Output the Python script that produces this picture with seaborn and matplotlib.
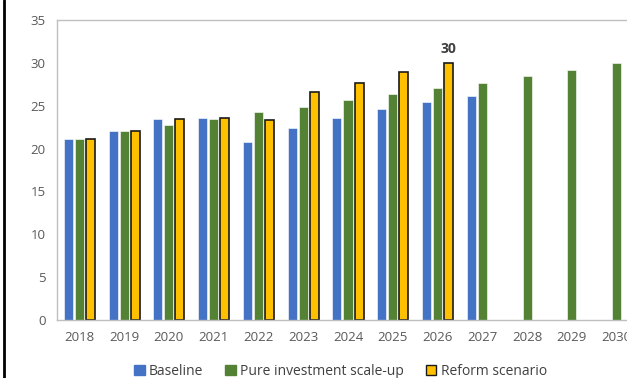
import numpy as np
import pandas as pd
import matplotlib
matplotlib.use("Agg")
import matplotlib.pyplot as plt
from matplotlib.lines import Line2D
from matplotlib.patches import Patch
import seaborn as sns

years = ["2018", "2019", "2020", "2021", "2022", "2023", "2024",
         "2025", "2026", "2027", "2028", "2029", "2030"]
baseline = [21.1, 22.0, 23.4, 23.6, 20.8, 22.4, 23.6, 24.6, 25.4, 26.1,
            np.nan, np.nan, np.nan]
pure_investment = [21.1, 22.0, 22.8, 23.45, 24.3, 24.9, 25.7, 26.4, 27.1,
                   27.7, 28.5, 29.2, 29.95]
reform = [21.1, 22.0, 23.4, 23.6, 23.3, 26.6, 27.7, 28.9, 30.0,
          np.nan, np.nan, np.nan, np.nan]
series_names = ["Baseline", "Pure investment scale-up", "Reform scenario"]
label_year = "2026"

df = pd.concat([
    pd.DataFrame({"year": years, "value": baseline, "series": series_names[0]}),
    pd.DataFrame({"year": years, "value": pure_investment, "series": series_names[1]}),
    pd.DataFrame({"year": years, "value": reform, "series": series_names[2]}),
], ignore_index=True)

colors = {"Baseline": "#4472C4",
          "Pure investment scale-up": "#548235",
          "Reform scenario": "#FFC000"}

sns.set_theme(style="white")
plt.rcParams["font.family"] = ["Open Sans", "DejaVu Sans"]

fig = plt.figure(figsize=(6.27, 3.78), dpi=100)
ax = fig.add_axes([57 / 627, 58 / 378, 582 / 627, 300 / 378])

sns.barplot(data=df, x="year", y="value", hue="series", order=years,
            hue_order=series_names, palette=colors, width=0.74, gap=0.18,
            saturation=1, ax=ax, legend=False)

# outline on the reform bars
for patch in ax.containers[2]:
    patch.set_edgecolor("#1a1a1a")
    patch.set_linewidth(1.2)
for c in ax.containers[:2]:
    for patch in c:
        patch.set_edgecolor("white")
        patch.set_linewidth(0.4)

# value label on the reform scenario peak
peak = reform[years.index(label_year)]
labels = ["" if abs(p.get_height() - peak) > 1e-9 else f"{peak:.0f}"
          for p in ax.containers[2]]
ax.bar_label(ax.containers[2], labels=labels, padding=5, fontsize=10,
             fontweight="bold", color="#404040")

ax.set_xlim(-0.5, 12.5)
ax.set_ylim(0, 35)
ax.set_yticks(range(0, 36, 5))
ax.set_xlabel("")
ax.set_ylabel("")
ax.tick_params(axis="both", length=0, labelsize=9.5, colors="#595959")
ax.tick_params(axis="x", pad=8)
ax.tick_params(axis="y", pad=8)
for side in ["left", "top", "right", "bottom"]:
    ax.spines[side].set_color("#BFBFBF")
    ax.spines[side].set_linewidth(1.0)
ax.grid(False)

handles = [Patch(facecolor=colors[n], edgecolor="#1a1a1a" if n == "Reform scenario" else colors[n],
                 linewidth=1.0) for n in series_names]
fig.legend(handles, series_names, loc="center", bbox_to_anchor=(0.543, 0.018),
           ncol=3, frameon=False, fontsize=10, handlelength=0.75,
           handleheight=0.75, handletextpad=0.3, columnspacing=1.6,
           labelcolor="#404040")

# left border of the chart area
fig.add_artist(Line2D([4 / 627, 4 / 627], [0, 1], color="black", linewidth=2,
                      transform=fig.transFigure))

fig.savefig("out.png", dpi=100)
